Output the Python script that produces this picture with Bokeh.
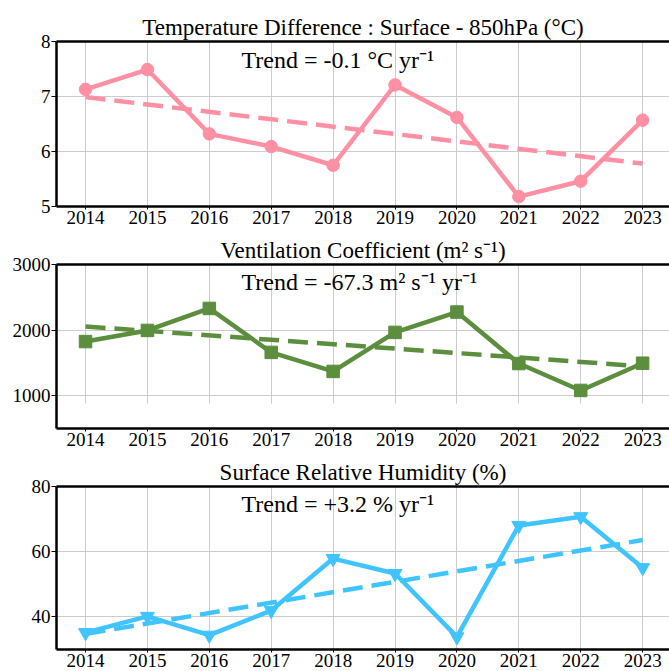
from bokeh.plotting import figure
from bokeh.layouts import column
from bokeh.models import Label, BoxAnnotation, FixedTicker, LinearAxis
from bokeh.embed import file_html
from bokeh.resources import INLINE

# ---------------- data ----------------
years = [2014, 2015, 2016, 2017, 2018, 2019, 2020, 2021, 2022, 2023]

temp_diff = [7.13, 7.49, 6.32, 6.09, 5.75, 7.21, 6.62, 5.18, 5.46, 6.57]
temp_trend_years = [2014, 2023]
temp_trend_vals = [6.99, 5.78]

vent = [1825, 1995, 2330, 1660, 1370, 1965, 2275, 1490, 1080, 1495]
vent_trend_years = [2014, 2023]
vent_trend_vals = [2055, 1448]

rh = [35.0, 40.0, 34.2, 41.8, 57.8, 53.2, 33.7, 68.0, 70.7, 55.0]
rh_trend_years = [2014, 2023]
rh_trend_vals = [34.6, 63.5]

titles = ["Temperature Difference : Surface - 850hPa (\u00b0C)",
          "Ventilation Coefficient (m\u00b2 s\u207b\u00b9)",
          "Surface Relative Humidity (%)"]
trend_texts = ["Trend = -0.1 \u00b0C yr\u207b\u00b9",
               "Trend = -67.3 m\u00b2 s\u207b\u00b9 yr\u207b\u00b9",
               "Trend = +3.2 % yr\u207b\u00b9"]

temp_yticks = [5, 6, 7, 8]
vent_yticks = [1000, 2000, 3000]
rh_yticks = [40, 60, 80]

PINK = "#FF8FA3"
GREEN = "#5B8E3D"
BLUE = "#40C4FF"
FONT = "Liberation Serif"

X_RANGE = (2013.531, 2023.434)
W = 669


def make_panel(title, yr, yticks, height, top_border, bottom_border, trend_text, trend_y):
    p = figure(width=W, height=height, x_range=X_RANGE, y_range=yr,
               output_backend="svg", toolbar_location=None,
               min_border_left=56, min_border_right=0,
               min_border_top=top_border, min_border_bottom=bottom_border)
    p.title.text = title
    p.title.text_font = FONT
    p.title.text_font_size = "23px"
    p.title.text_font_style = "normal"
    p.title.text_color = "black"
    p.title.align = "center"
    p.title.offset = 3
    p.title.standoff = 4
    p.outline_line_color = None
    p.background_fill_color = "white"
    p.border_fill_color = "white"

    p.xaxis.ticker = FixedTicker(ticks=years)
    p.yaxis.ticker = FixedTicker(ticks=yticks)
    for ax in (p.xaxis[0], p.yaxis[0]):
        ax.axis_line_width = 2.5
        ax.axis_line_color = "black"
        ax.major_tick_in = 0
        ax.major_tick_line_color = "black"
        ax.minor_tick_line_color = None
        ax.major_label_text_font = FONT
        ax.major_label_text_font_size = "19px"
        ax.major_label_text_color = "black"
    p.xaxis.major_tick_out = 3
    p.xaxis.major_label_standoff = 1
    p.yaxis.major_tick_out = 5
    p.yaxis.major_label_standoff = 1

    top = LinearAxis(ticker=FixedTicker(ticks=[]), major_label_text_font_size="0px",
                     major_tick_out=0, major_tick_in=0, minor_tick_out=0,
                     minor_tick_in=0, major_label_standoff=0,
                     axis_line_width=2.5, axis_line_color="black")
    p.add_layout(top, "above")

    p.xgrid.grid_line_color = "#cccccc"
    p.ygrid.grid_line_color = "#cccccc"
    p.xgrid.grid_line_width = 1
    p.ygrid.grid_line_width = 1

    p.add_layout(Label(x=2016.52, y=trend_y, text=trend_text, text_font=FONT,
                       text_font_size="24px", text_baseline="middle",
                       text_align="left", text_color="black"))
    return p


p1 = make_panel(titles[0], (5, 8), temp_yticks, 230, 41, 24, trend_texts[0], 7.67)
p1.line(years, temp_diff, line_color=PINK, line_width=4.5)
p1.scatter(years, temp_diff, marker="circle", size=12.5, fill_color=PINK, line_color=PINK)
p1.line(temp_trend_years, temp_trend_vals, line_color=PINK, line_width=4.5, line_dash="20 9")

p2 = make_panel(titles[1], (500, 3000), vent_yticks, 222, 34, 24, trend_texts[1], 2726)
p2.add_layout(BoxAnnotation(top=880, fill_color="white", fill_alpha=1.0,
                            line_color=None, level="underlay"))
p2.line(years, vent, line_color=GREEN, line_width=4.5)
p2.scatter(years, vent, marker="square", size=12.5, fill_color=GREEN, line_color=GREEN)
p2.line(vent_trend_years, vent_trend_vals, line_color=GREEN, line_width=4.5, line_dash="20 9")

p3 = make_panel(titles[2], (29.8, 80), rh_yticks, 219, 34, 22, trend_texts[2], 74.5)
p3.line(years, rh, line_color=BLUE, line_width=4.5)
p3.scatter(years, rh, marker="inverted_triangle", size=14, fill_color=BLUE, line_color=BLUE)
p3.line(rh_trend_years, rh_trend_vals, line_color=BLUE, line_width=4.5, line_dash="20 9")

layout = column(p1, p2, p3, spacing=0)
open("out.html", "w").write(file_html(layout, INLINE))
